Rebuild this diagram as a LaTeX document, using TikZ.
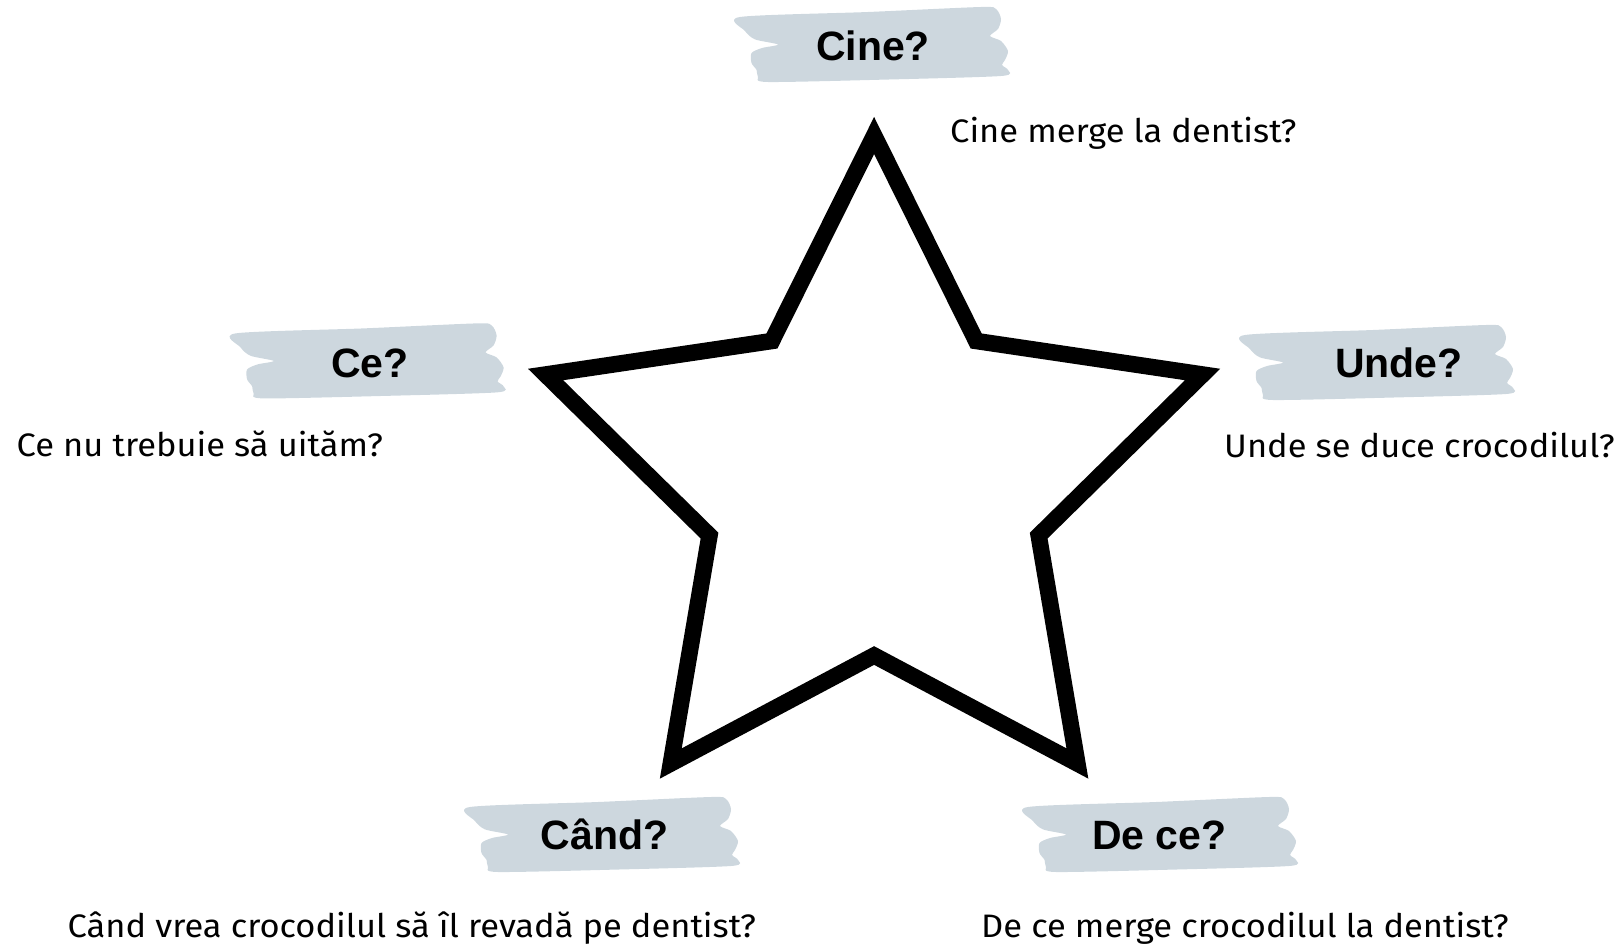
\documentclass[tikz,border=0pt]{standalone}
\usepackage{fontspec}
\setmainfont{Fira Sans}[FakeStretch=1.06]
\newfontfamily\headfont{Liberation Sans}
\definecolor{brushcol}{HTML}{CDD7DE}
\tikzset{
  brushfill/.style={fill=brushcol},
  head/.style={anchor=base, inner sep=0pt, font=\headfont\bfseries\fontsize{41}{48}\selectfont},
  question/.style={anchor=base west, inner sep=0pt, font=\fontsize{32.5}{38}\selectfont},
  starline/.style={draw=black, line width=16.5pt, line join=miter, miter limit=10}
}
\newcommand\paintbrush[2]{%
  \fill[brushfill, shift={(#1,#2)}] plot[smooth cycle, tension=0.45] coordinates {
    (0,10) (128,5) (241,0) (256,2) (261,12) (258,22) (250,29) (261,34) (268,44)
    (265,53) (262,58) (268,63) (261,69) (145,72.6) (28,75) (18,70) (16.6,63)
    (11.5,56) (11.5,46) (22,41) (38,37.5) (15,32.4) (5,24)};%
}
\begin{document}
\begin{tikzpicture}[x=1pt, y=-1pt]
\useasboundingbox (0,0) rectangle (1620,944);
% star
\draw[starline] (874.1,135.5) -- (976.2,341.0) -- (1202.6,374.5) -- (1038.7,535.6)
  -- (1077.4,763.5) -- (874.1,655.5) -- (670.8,763.5) -- (709.5,535.6)
  -- (545.6,374.5) -- (771.9,341.0) -- cycle;
% brushes
\paintbrush{740}{7}
\paintbrush{235.6}{323.4}
\paintbrush{1245}{325}
\paintbrush{470}{797}
\paintbrush{1028}{797}
% headings
\node[head] (cine) at (873,61) {Cine?};
\node[head] (ce) at (369.9,377.5) {Ce?};
\node[head] (unde) at (1399,377.5) {Unde?};
\node[head] (cand) at (604.4,849.6) {Când?};
\node[head] (dece) at (1159.3,849.6) {De ce?};
% questions
\node[question] (qcine) at (950,143) {Cine merge la dentist?};
\node[question] (qce) at (16.5,456) {Ce nu trebuie să uităm?};
\node[question] (qunde) at (1224,457) {Unde se duce crocodilul?};
\node[question] (qcand) at (67.5,937) {Când vrea crocodilul să îl revadă pe dentist?};
\node[question] (qdece) at (981,937) {De ce merge crocodilul la dentist?};
\end{tikzpicture}
\end{document}
